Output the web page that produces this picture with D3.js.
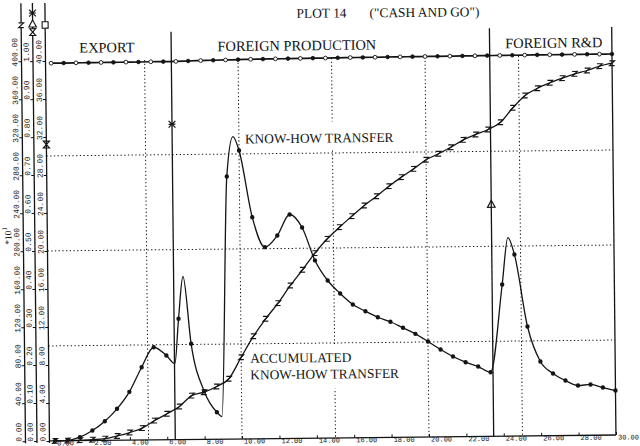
<!DOCTYPE html>
<html>
<head>
<meta charset="utf-8">
<script src="https://cdn.jsdelivr.net/npm/d3@7"></script>
<style>
  html, body { margin: 0; padding: 0; background: #fff; }
  svg { display: block; }
</style>
</head>
<body>
<svg id="chart" width="640" height="446"></svg>
<script>
// Simulation periods (years), one sample every 2/3 year
const periods = [0, 0.67, 1.33, 2, 2.67, 3.33, 4, 4.67, 5.33, 6, 6.67, 7.33, 8, 8.67, 9.33, 10,
  10.67, 11.33, 12, 12.67, 13.33, 14, 14.67, 15.33, 16, 16.67, 17.33, 18, 18.67, 19.33, 20,
  20.67, 21.33, 22, 22.67, 23.33, 24, 24.67, 25.33, 26, 26.67, 27.33, 28, 28.67, 29.33, 30];

// Know-how transfer per period (*10^1)
const knowHow = [0, 0.5, 3.6, 10.5, 20.2, 33.1, 50.8, 76.6, 97.5, 88.6, 127.2, 100.7, 50.7, 28.4,
  276.4, 303.7, 233.3, 201.6, 213.8, 235.7, 221.9, 187.1, 165.8, 152, 140.3, 133.1, 126.6, 121.7,
  115.2, 108.7, 100.5, 91.9, 84.4, 78.3, 73.6, 67.5, 159.7, 191.2, 115.2, 78.2, 65.5, 57.9, 52.5,
  53.5, 50.1, 46.8];

// Turning points of the know-how curve between sampled periods: [year, value]
const knowHowTurns = [[6.45, 80.1], [6.93, 171.6], [8.94, 23.8], [9.68, 318.4], [24.33, 209]];

// Accumulated know-how transfer (*10^1)
const accumulated = [0, 0.2, 0.5, 0.9, 1.8, 4.5, 8.0, 12.5, 20.3, 27.3, 34.8, 46.2, 49.6, 55.5,
  63.5, 86, 108, 126.2, 142.5, 161, 177.4, 194.7, 209.7, 221.8, 233.3, 244.4, 254, 264.4, 273.8,
  282.4, 291.8, 298, 304.7, 312.4, 317.9, 323, 330.5, 345.6, 358.4, 365.9, 371.5, 376.2, 380.6,
  384, 388.4, 391.4];

// Upper series on the square-symbol axis
const upperSeries = [39.76, 39.76, 39.77, 39.77, 39.78, 39.78, 39.79, 39.79, 39.8, 39.8, 39.81,
  39.84, 39.87, 39.89, 39.91, 39.93, 39.95, 39.96, 39.97, 39.98, 39.99, 40.0, 40.0, 40.01, 40.02,
  40.02, 40.03, 40.04, 40.04, 40.05, 40.05, 40.06, 40.06, 40.07, 40.07, 40.08, 40.08, 40.09,
  40.09, 40.1, 40.1, 40.1, 40.11, 40.11, 40.11, 40.11];

// Phases of internationalisation
const phaseNames = ["EXPORT", "FOREIGN PRODUCTION", "FOREIGN R&D"];
const phaseStarts = [-0.3, 6.43, 23.46];
const phaseEnd = 30;
const phaseIndicator = [0.78, 0.83, 0.61];   // value of each phase switch on the 0-1 axis
const phaseSymbols = ["hourglass", "cross", "triangle"];

// Axis ticks
const xTicks = [0, 2, 4, 6, 8, 10, 12, 14, 16, 18, 20, 22, 24, 26, 28, 30];
const zTicks = [0, 40, 80, 120, 160, 200, 240, 280, 320, 360, 400];
const starTicks = [0, 0.1, 0.2, 0.3, 0.4, 0.5, 0.6, 0.7, 0.8, 0.9, 1.0];
const squareTicks = [0, 4, 8, 12, 16, 20, 24, 28, 32, 36, 40];
const gridYears = [5, 10, 15, 20, 25];
const gridLevels = [100, 200, 300];

// ---------------------------------------------------------------------------
const INK = "#141414";
const svg = d3.select("#chart");
const root = svg.append("g").attr("transform", "rotate(-0.6 330 250)");

const x = d3.scaleLinear().domain([phaseStarts[0], phaseEnd]).range([47.5, 614]);
const yZ = d3.scaleLinear().domain([0, 400]).range([438, 58]);
const yStar = d3.scaleLinear().domain([0, 1]).range([438, 58]);
const ySq = d3.scaleLinear().domain([0, 40]).range([438, 58]);
const axisPos = [23.5, 35, x(phaseStarts[0])];

const symbolPath = {
  Z: "M-2.6,-2.4H2.6L-2.6,2.4H2.6",
  cross: "M-3.4,-3.4L3.4,3.4M-3.4,3.4L3.4,-3.4M-3.4,0H3.4",
  hourglass: "M-3,-3.4H3L-3,3.4H3Z",
  triangle: "M0,-4.2L3.8,2.8H-3.8Z",
  square: "M-3,-3.2H3V3.2H-3Z"
};

// grid
const grid = root.append("g").attr("stroke", INK).attr("stroke-width", 1)
  .attr("stroke-dasharray", "1.3 2.4");
grid.selectAll("line.gx").data(gridYears).join("line").attr("class", "gx")
  .attr("x1", d => x(d)).attr("x2", d => x(d))
  .attr("y1", yZ(400)).attr("y2", yZ(0));
grid.selectAll("line.gy").data(gridLevels).join("line").attr("class", "gy")
  .attr("x1", x(phaseStarts[0])).attr("x2", x(phaseEnd))
  .attr("y1", d => yZ(d)).attr("y2", d => yZ(d));

// curve labels, knocked out of the grid
const serif = "'Liberation Serif', 'Times New Roman', serif";
function knockoutLabel(lines, x0, y0, lead, padTop, padBottom) {
  const g = root.append("g");
  const rect = g.append("rect").attr("fill", "#fff");
  const t = g.append("text").attr("font-family", serif).attr("font-size", 13.4)
    .attr("fill", INK).attr("x", x0).attr("y", y0);
  lines.forEach((s, i) => t.append("tspan").attr("x", x0).attr("dy", i ? lead : 0).text(s));
  const b = t.node().getBBox();
  rect.attr("x", b.x - 3).attr("y", b.y - padTop)
    .attr("width", b.width + 6).attr("height", b.height + padTop + padBottom);
}
knockoutLabel(["KNOW-HOW TRANSFER"], 246, 142.5, 0, 9, 3);
knockoutLabel(["ACCUMULATED", "KNOW-HOW TRANSFER"], 249, 362, 16.5, 6, 7);

// phase boundaries
root.append("g").attr("stroke", INK).attr("stroke-width", 1.3)
  .selectAll("line").data(phaseStarts.slice(1).concat([phaseEnd])).join("line")
  .attr("x1", d => x(d)).attr("x2", d => x(d))
  .attr("y1", 30).attr("y2", yZ(0));

// phase names
const phaseLabelX = [109, 299, 556];
root.append("g").attr("font-family", serif).attr("font-size", 14.4).attr("fill", INK)
  .attr("text-anchor", "middle")
  .selectAll("text").data(phaseNames).join("text")
  .attr("x", (d, i) => phaseLabelX[i]).attr("y", 50).text(d => d);

// title
root.append("text").attr("font-family", serif).attr("font-size", 13.4).attr("fill", INK)
  .attr("x", 299).attr("y", 17.5).text("PLOT 14");
root.append("text").attr("font-family", serif).attr("font-size", 13.4).attr("fill", INK)
  .attr("x", 372).attr("y", 17.8).text("(\"CASH AND GO\")");

// axes
const mono = "'Liberation Mono', 'DejaVu Sans Mono', monospace";
function verticalAxis(ax, scale, ticks) {
  const g = root.append("g").attr("transform", `translate(${ax},0)`)
    .call(d3.axisLeft(scale).tickValues(ticks).tickFormat(d3.format(".2f"))
      .tickSizeInner(3).tickSizeOuter(0));
  g.attr("font-family", mono).attr("font-size", 8);
  g.select(".domain").remove();
  g.selectAll(".tick line").attr("stroke", INK).attr("stroke-width", 1);
  g.selectAll(".tick text").attr("transform", "rotate(-90)")
    .attr("x", 9.5).attr("y", -6.5).attr("dy", null)
    .attr("text-anchor", "middle").attr("dominant-baseline", "central").attr("fill", INK);
  g.append("line").attr("x1", 0).attr("x2", 0).attr("y1", 0).attr("y2", 440)
    .attr("stroke", INK).attr("stroke-width", 1.3);
  return g;
}
verticalAxis(axisPos[0], yZ, zTicks);
verticalAxis(axisPos[1], yStar, starTicks);
verticalAxis(axisPos[2], ySq, squareTicks);

// unit of the Z axis
const unit = root.append("text").attr("font-family", serif).attr("font-size", 9.5).attr("fill", INK)
  .attr("transform", `translate(8.5,232.6) rotate(-90)`).attr("text-anchor", "middle")
  .attr("dominant-baseline", "central");
unit.append("tspan").text("*10");
unit.append("tspan").attr("font-size", 7).attr("dy", -3.5).text("1");

// axis symbols
const axisSymbols = [
  { x: axisPos[0], y: 22, s: "Z" },
  { x: axisPos[1], y: 10, s: "cross" },
  { x: axisPos[1], y: 21, s: "triangle" },
  { x: axisPos[1], y: 29, s: "hourglass" },
  { x: axisPos[2], y: 22, s: "square" }
];
root.append("g").selectAll("path").data(axisSymbols).join("path")
  .attr("transform", d => `translate(${d.x},${d.y})`).attr("d", d => symbolPath[d.s])
  .attr("fill", "#fff").attr("stroke", INK).attr("stroke-width", 1.1);

// x axis
const gx = root.append("g").attr("transform", `translate(0,${yZ(0)})`)
  .call(d3.axisBottom(x).tickValues(xTicks).tickFormat(d3.format(".2f"))
    .tickSizeInner(-3).tickSizeOuter(0));
gx.attr("font-family", mono).attr("font-size", 7);
gx.select(".domain").remove();
gx.selectAll(".tick line").attr("stroke", INK);
gx.selectAll(".tick text").attr("x", 1.5).attr("y", 4.6).attr("dy", null)
  .attr("text-anchor", "start").attr("fill", INK);
root.append("line").attr("x1", x(phaseStarts[0])).attr("x2", x(phaseEnd))
  .attr("y1", yZ(0)).attr("y2", yZ(0)).attr("stroke", INK).attr("stroke-width", 1.3);

// series
const upperPts = periods.map((t, i) => [t, upperSeries[i]]);
const knowPts = periods.map((t, i) => [t, knowHow[i]]);
const knowLine = knowPts.concat(knowHowTurns).sort((a, b) => a[0] - b[0]);
const accPts = periods.map((t, i) => [t, accumulated[i]]);

const lineZ = d3.line().x(d => x(d[0])).y(d => yZ(d[1])).curve(d3.curveMonotoneX);
const lineSq = d3.line().x(d => x(d[0])).y(d => ySq(d[1])).curve(d3.curveMonotoneX);

root.append("path").attr("d", lineSq(upperPts)).attr("fill", "none")
  .attr("stroke", INK).attr("stroke-width", 1.7);
root.append("path").attr("d", lineZ(accPts)).attr("fill", "none")
  .attr("stroke", INK).attr("stroke-width", 1.3);
root.append("path").attr("d", lineZ(knowLine)).attr("fill", "none")
  .attr("stroke", INK).attr("stroke-width", 1.3);

// markers
root.append("g").selectAll("circle").data(upperPts).join("circle")
  .attr("cx", d => x(d[0])).attr("cy", d => ySq(d[1])).attr("r", (d, i) => i % 2 ? 1.8 : 1.9)
  .attr("fill", (d, i) => i % 2 ? INK : "#fff").attr("stroke", INK).attr("stroke-width", 0.9);

root.append("g").selectAll("path").data(accPts).join("path")
  .attr("transform", d => `translate(${x(d[0])},${yZ(d[1])})`).attr("d", symbolPath.Z)
  .attr("fill", "none").attr("stroke", INK).attr("stroke-width", 1.1);

root.append("g").selectAll("circle").data(knowPts).join("circle")
  .attr("cx", d => x(d[0])).attr("cy", d => yZ(d[1])).attr("r", 2.2).attr("fill", INK);

root.append("g").selectAll("path").data(phaseStarts).join("path")
  .attr("transform", (d, i) => `translate(${x(d)},${yStar(phaseIndicator[i])})`)
  .attr("d", (d, i) => symbolPath[phaseSymbols[i]])
  .attr("fill", "none").attr("stroke", INK).attr("stroke-width", 1.2);
</script>
</body>
</html>
